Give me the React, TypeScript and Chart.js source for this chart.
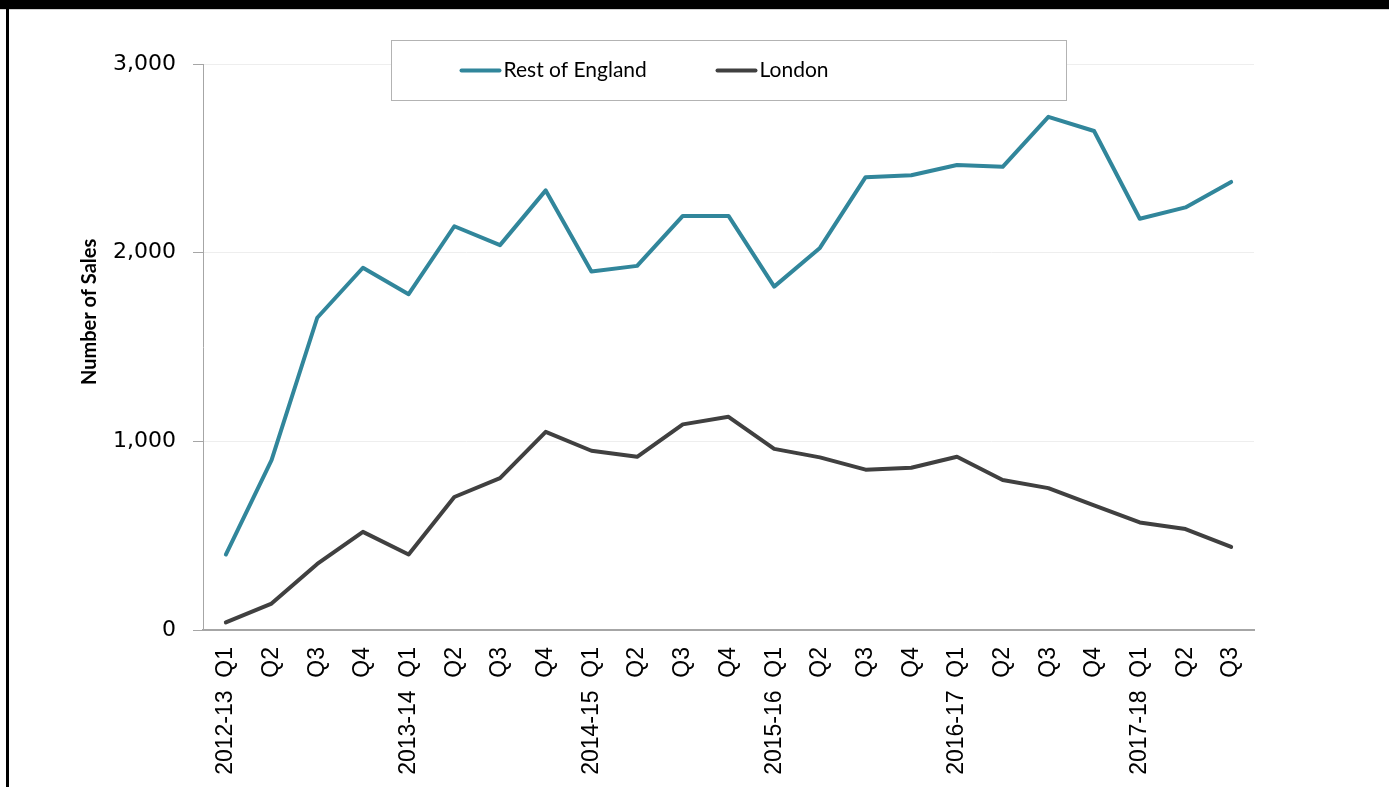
import React, { useEffect, useRef } from "react";
import { Chart, registerables } from "chart.js";

Chart.register(...registerables);

const categories: string[] = [
  "2012-13  Q1", "Q2", "Q3", "Q4",
  "2013-14  Q1", "Q2", "Q3", "Q4",
  "2014-15  Q1", "Q2", "Q3", "Q4",
  "2015-16  Q1", "Q2", "Q3", "Q4",
  "2016-17  Q1", "Q2", "Q3", "Q4",
  "2017-18  Q1", "Q2", "Q3",
];

const restOfEngland: number[] = [
  400, 900, 1655, 1920,
  1780, 2140, 2040, 2330,
  1900, 1930, 2195, 2195,
  1820, 2025, 2400, 2410,
  2465, 2455, 2720, 2645,
  2180, 2240, 2375,
];

const london: number[] = [
  40, 140, 350, 520,
  400, 705, 805, 1050,
  950, 918, 1090, 1130,
  960, 915, 850, 860,
  918, 795, 752, 660,
  570, 535, 440,
];

const yTicks: number[] = [0, 1000, 2000, 3000];

const seriesNames = ["Rest of England", "London"];
const seriesColors = ["#31869b", "#404040"];
const yTitle = "Number of Sales";

const legendBoxPlugin = {
  id: "legendBox",
  afterDraw(chart: any) {
    const { ctx, chartArea } = chart;
    // y-axis title
    ctx.save();
    ctx.font = "bold 20px Lato";
    ctx.fillStyle = "#000000";
    ctx.textAlign = "center";
    ctx.textBaseline = "middle";
    const ty = chartArea.top + (chartArea.bottom - chartArea.top) * 0.438;
    ctx.translate(90, ty);
    ctx.rotate(-Math.PI / 2);
    ctx.fillText(yTitle, 0, 0);
    ctx.restore();

    // legend box
    const boxW = 675;
    const boxH = 60;
    const cx = (chartArea.left + chartArea.right) / 2;
    const left = Math.round(cx - boxW / 2) + 0.5;
    const top = Math.round(chartArea.top - 24) + 0.5;
    ctx.save();
    ctx.fillStyle = "#ffffff";
    ctx.fillRect(left, top, boxW, boxH);
    ctx.strokeStyle = "#b3b3b3";
    ctx.lineWidth = 1;
    ctx.strokeRect(left, top, boxW, boxH);
    const midY = top + boxH / 2;
    ctx.font = "21px Lato";
    ctx.textBaseline = "middle";
    ctx.textAlign = "left";
    chart.data.datasets.forEach((ds: any, i: number) => {
      const sx = left + 70 + i * 256;
      ctx.strokeStyle = ds.borderColor;
      ctx.lineWidth = 4;
      ctx.lineCap = "round";
      ctx.beginPath();
      ctx.moveTo(sx, midY);
      ctx.lineTo(sx + 38, midY);
      ctx.stroke();
      ctx.fillStyle = "#000000";
      ctx.fillText(ds.label, sx + 42, midY);
    });
    ctx.restore();
  },
};

export default function App() {
  const canvasRef = useRef<HTMLCanvasElement | null>(null);

  useEffect(() => {
    if (!canvasRef.current) return;
    const chart = new Chart(canvasRef.current, {
      type: "line",
      data: {
        labels: categories,
        datasets: [
          {
            label: seriesNames[0],
            data: restOfEngland,
            borderColor: seriesColors[0],
            backgroundColor: seriesColors[0],
            borderWidth: 4,
            pointRadius: 0,
            tension: 0,
            borderJoinStyle: "round",
            borderCapStyle: "round",
          },
          {
            label: seriesNames[1],
            data: london,
            borderColor: seriesColors[1],
            backgroundColor: seriesColors[1],
            borderWidth: 4,
            pointRadius: 0,
            tension: 0,
            borderJoinStyle: "round",
            borderCapStyle: "round",
          },
        ],
      },
      options: {
        animation: false,
        responsive: true,
        maintainAspectRatio: false,
        layout: { padding: { left: 78, top: 64, right: 135, bottom: 0 } },
        plugins: {
          legend: { display: false },
          tooltip: { enabled: false },
          title: { display: false },
        },
        scales: {
          x: {
            offset: true,
            grid: { display: false, drawTicks: false },
            border: { display: true, color: "#a6a6a6", width: 2 },
            ticks: {
              autoSkip: false,
              minRotation: 90,
              maxRotation: 90,
              padding: 17,
              color: "#000000",
              font: { family: "'Liberation Sans', Arial, sans-serif", size: 23 },
            },
            afterFit: (scale: any) => {
              scale.height = 157;
            },
          },
          y: {
            min: 0,
            max: 3000,
            afterBuildTicks: (scale: any) => {
              scale.ticks = yTicks.map((v) => ({ value: v }));
            },
            grid: {
              color: "#eeeeee",
              tickColor: "#a6a6a6",
              tickLength: 10,
              lineWidth: 1,
            },
            border: { display: true, color: "#a6a6a6", width: 1 },
            ticks: {
              padding: 17,
              color: "#000000",
              font: { family: "'DejaVu Sans', Verdana, sans-serif", size: 22 },
              callback: (v: any) => Number(v).toLocaleString("en-US"),
            },
            title: { display: false },
            afterFit: (scale: any) => {
              scale.width = 125;
            },
          },
        },
      },
      plugins: [legendBoxPlugin],
    });
    return () => chart.destroy();
  }, []);

  return (
    <div
      style={{
        position: "fixed",
        left: 0,
        top: 0,
        width: 1389,
        height: 787,
        background: "#ffffff",
        overflow: "hidden",
      }}
    >
      <div style={{ position: "absolute", left: 0, top: 0, width: 1389, height: 787 }}>
        <canvas ref={canvasRef} />
      </div>
      <div style={{ position: "absolute", left: 0, top: 0, width: 1389, height: 9, background: "#000" }} />
      <div style={{ position: "absolute", left: 0, top: 9, width: 1389, height: 1, background: "#d0d0d0" }} />
      <div style={{ position: "absolute", left: 6, top: 0, width: 3, height: 787, background: "#000" }} />
    </div>
  );
}
